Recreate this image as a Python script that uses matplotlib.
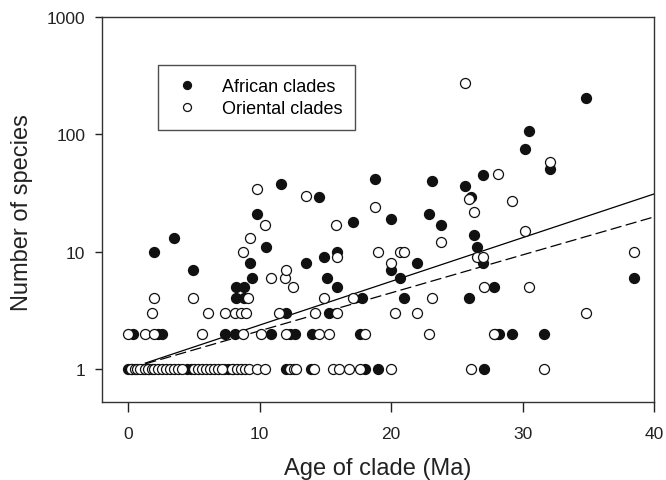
import matplotlib
matplotlib.use("Agg")
import matplotlib.pyplot as plt
import numpy as np

plt.rcParams["font.family"] = ["Liberation Sans", "DejaVu Sans"]

# African clades (filled circles): age (Ma), number of species
african_age = [
    0.0, 0.3, 1.1, 1.6, 4.5, 4.8, 7.3, 7.6, 8.0, 12.0, 13.9, 18.0, 19.0, 27.1,
    0.4, 2.3, 2.6, 7.4, 8.1, 10.9, 12.3, 12.7, 14.0, 17.6, 27.9, 28.2, 29.2, 31.6,
    12.0, 15.3,
    8.2, 8.8, 17.8, 21.0, 25.9,
    8.2, 8.8, 15.9, 27.8,
    9.4, 15.1, 20.7, 38.5,
    4.9, 20.0,
    9.3, 13.5, 22.0, 27.0,
    14.9,
    2.0, 15.9,
    10.5, 26.5,
    3.5, 26.3, 23.8, 17.1, 20.0, 9.8, 22.9, 14.5, 26.1, 25.6, 11.6, 23.1,
    18.8, 27.0, 32.1, 30.2, 30.5, 34.8,
]
african_species = [
    1, 1, 1, 1, 1, 1, 1, 1, 1, 1, 1, 1, 1, 1,
    2, 2, 2, 2, 2, 2, 2, 2, 2, 2, 2, 2, 2, 2,
    3, 3,
    4, 4, 4, 4, 4,
    5, 5, 5, 5,
    6, 6, 6, 6,
    7, 7,
    8, 8, 8, 8,
    9,
    10, 10,
    11, 11,
    13, 14, 17, 18, 19, 21, 21, 29, 29, 36, 38, 40,
    42, 45, 51, 75, 106, 203,
]

# Oriental clades (open circles)
oriental_age = [
    0.2, 0.5, 0.7, 0.9, 1.3, 1.5, 1.8, 2.0, 2.3, 2.6, 2.9, 3.2, 3.5, 3.8, 4.1,
    5.0, 5.3, 5.6, 5.9, 6.2, 6.5, 6.8, 7.1, 7.9, 8.3, 8.6, 8.9, 9.2, 9.8, 10.4,
    12.3, 12.6, 12.8, 14.1, 15.6, 16.0, 16.8, 17.6, 20.0, 26.1, 31.6,
    0.0, 1.3, 2.0, 5.6, 8.7, 10.1, 12.0, 14.5, 15.3, 18.0, 22.9, 27.8,
    1.8, 6.1, 7.4, 8.1, 8.6, 9.0, 11.5, 14.2, 15.9, 20.3, 22.0, 34.8,
    2.0, 4.9, 9.1, 14.9, 17.1, 23.1,
    12.5, 27.1, 30.5,
    10.9, 11.9,
    12.0,
    20.0,
    15.9, 26.5, 27.0,
    8.7, 19.0, 20.7, 21.0, 38.5,
    23.8, 9.3, 30.2, 10.4, 15.8, 26.3, 18.8, 29.2, 25.9, 13.5, 9.8, 28.1,
    32.1, 25.6,
]
oriental_species = [
    1, 1, 1, 1, 1, 1, 1, 1, 1, 1, 1, 1, 1, 1, 1,
    1, 1, 1, 1, 1, 1, 1, 1, 1, 1, 1, 1, 1, 1, 1,
    1, 1, 1, 1, 1, 1, 1, 1, 1, 1, 1,
    2, 2, 2, 2, 2, 2, 2, 2, 2, 2, 2, 2,
    3, 3, 3, 3, 3, 3, 3, 3, 3, 3, 3, 3,
    4, 4, 4, 4, 4, 4,
    5, 5, 5,
    6, 6,
    7,
    8,
    9, 9, 9,
    10, 10, 10, 10, 10,
    12, 13, 15, 17, 17, 22, 24, 27, 28, 30, 34, 46,
    58, 274,
]

# fitted rates (log10 species per Ma) and the age range they span
line_ages = [1.3, 40.0]
african_rate = 0.0373
oriental_rate = 0.0324

fig = plt.figure(figsize=(6.66, 4.81), dpi=100)
ax = fig.add_axes([0.153, 0.162, 0.829, 0.8])

ages = np.array(line_ages)
ax.plot(ages, 10 ** (african_rate * ages), color="black", linewidth=0.9, zorder=3)
ax.plot(ages, 10 ** (oriental_rate * ages), color="black", linewidth=0.9,
        dashes=(9, 3.5), zorder=3)

ax.plot(african_age, african_species, "o", ms=7.2, mfc="#111111", mec="#111111",
        mew=0.9, label="African clades", zorder=4)
ax.plot(oriental_age, oriental_species, "o", ms=7.2, mfc="white", mec="#111111",
        mew=0.9, label="Oriental clades", zorder=5)

ax.set_yscale("log")
ax.set_xlim(-2, 40)
ax.set_ylim(0.52, 1000)
ax.set_xticks([0, 10, 20, 30, 40])
ax.set_yticks([1, 10, 100, 1000])
ax.set_yticklabels(["1", "10", "100", "1000"])
ax.yaxis.set_minor_locator(matplotlib.ticker.NullLocator())
ax.tick_params(axis="x", length=7, width=1, pad=10, labelsize=12.5, colors="#222222")
ax.tick_params(axis="y", length=5, width=1, pad=7, labelsize=12.5, colors="#222222")

for side in ax.spines.values():
    side.set_color("#333333")
    side.set_linewidth(1.0)

ax.set_xlabel("Age of clade (Ma)", fontsize=17, color="#222222")
ax.set_ylabel("Number of species", fontsize=17, color="#222222")
ax.xaxis.set_label_coords(0.5, -0.142)
ax.yaxis.set_label_coords(-0.125, 0.495)

leg = ax.legend(loc="upper left", bbox_to_anchor=(0.101, 0.875), borderaxespad=0,
                fontsize=13, frameon=True, fancybox=False, markerscale=0.8,
                handlelength=1.85, handletextpad=1.0, borderpad=0.7, labelspacing=0.3)
leg.get_frame().set_edgecolor("#222222")
leg.get_frame().set_linewidth(1.0)

fig.savefig("out.png", dpi=100)
